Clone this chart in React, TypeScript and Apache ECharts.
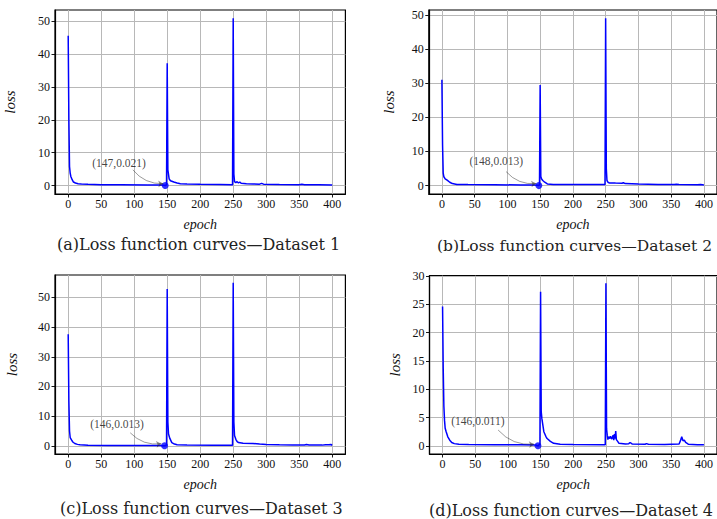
import React, { useEffect, useRef } from "react";
import * as echarts from "echarts";

// ---------- data ----------
const lossA: number[][] = [
  [0, 45.5], [1, 20], [2, 5.8], [3, 3.8], [4, 2.8], [6, 1.8], [8, 1.1], [11, 0.8], [15, 0.6], [20, 0.5],
  [30, 0.4], [50, 0.3], [80, 0.25], [120, 0.2], [140, 0.2], [145, 0.1], [147, 0.021], [149, 0.3],
  [150, 37.2], [151, 4.8], [153, 2], [155, 1.5], [160, 1.1], [165, 0.8], [170, 0.6], [180, 0.5],
  [200, 0.4], [230, 0.35], [249, 0.3], [250, 50.8], [251, 3.5], [252, 1.2], [254, 0.9], [256, 1.2],
  [258, 0.8], [260, 1.1], [262, 0.7], [270, 0.6], [280, 0.5], [290, 0.45], [293, 0.7], [296, 0.45],
  [320, 0.35], [350, 0.3], [354, 0.45], [358, 0.3], [380, 0.25], [400, 0.2],
];
const lossB: number[][] = [
  [0, 31], [1, 12], [2, 3.7], [3, 2.6], [5, 2], [8, 1.6], [12, 1], [16, 0.6], [23, 0.35], [40, 0.3],
  [80, 0.25], [120, 0.2], [140, 0.2], [146, 0.1], [148, 0.013], [149, 0.3], [150, 29.5], [151, 2.7],
  [152, 2], [154, 1.5], [157, 1], [161, 0.5], [170, 0.35], [200, 0.3], [249, 0.3], [250, 49],
  [251, 5], [252, 1.5], [254, 0.9], [256, 0.8], [265, 0.75], [275, 0.7], [277, 0.85], [280, 0.6],
  [300, 0.45], [330, 0.35], [355, 0.3], [358, 0.4], [362, 0.3], [390, 0.25], [395, 0.35], [400, 0.2],
];
const lossC: number[][] = [
  [0, 37.6], [1, 15], [2, 5], [3, 2.8], [5, 2.0], [7, 1.3], [10, 0.8], [14, 0.5], [18, 0.35], [30, 0.2],
  [60, 0.15], [100, 0.12], [140, 0.1], [144, 0.05], [146, 0.013], [149, 0.3], [150, 52.8], [151, 8],
  [152, 4], [154, 2.5], [157, 1.1], [161, 0.6], [165, 0.35], [180, 0.25], [220, 0.2], [249, 0.2],
  [250, 54.9], [251, 8], [252, 3.5], [254, 2.2], [256, 1.4], [258, 1.1], [265, 0.9], [280, 0.8],
  [290, 0.6], [300, 0.45], [320, 0.35], [340, 0.3], [358, 0.3], [361, 0.45], [365, 0.3], [385, 0.25],
  [390, 0.4], [395, 0.35], [398, 0.45], [400, 0.2],
];
const lossD: number[][] = [
  [0, 24.6], [1, 13.6], [2, 7], [3, 4.5], [4, 3.1], [5.5, 2.5], [8, 1.6], [11, 1.0], [14, 0.6], [18, 0.4],
  [25, 0.3], [40, 0.25], [80, 0.2], [120, 0.2], [140, 0.18], [144, 0.1], [146, 0.011], [149, 0.3],
  [150, 27.2], [151, 6], [152, 4.8], [155, 2.5], [158, 1.7], [160, 1.3], [165, 0.8], [170, 0.45],
  [180, 0.3], [200, 0.25], [249, 0.2], [250, 28.7], [251, 3], [252, 1.9], [253, 1.1], [254, 1.6],
  [256, 1.3], [257, 1.7], [259, 1.2], [261, 1.9], [262, 1.0], [263, 2.1], [264, 1.3], [265, 2.6],
  [266, 1.1], [268, 0.8], [270, 0.45], [280, 0.35], [285, 0.4], [287, 0.6], [290, 0.35], [310, 0.3],
  [312, 0.4], [315, 0.3], [340, 0.25], [350, 0.3], [362, 0.35], [365, 1.2], [366, 1.6], [368, 0.9],
  [370, 1.0], [372, 0.6], [376, 0.3], [390, 0.2], [400, 0.2],
];
const seriesData = [lossA, lossB, lossC, lossD];

// minimum points annotated in each panel
const minPoints: number[][] = [[147, 0.021], [148, 0.013], [146, 0.013], [146, 0.011]];
const minLabels = ["(147,0.021)", "(148,0.013)", "(146,0.013)", "(146,0.011)"];
// where the annotation text sits (data coords) and where its arrow starts / ends
const labelPos: number[][] = [[77, 7.0], [83, 7.1], [74, 7.3], [54, 4.4]];
const arrowStart: number[][] = [[98, 4.8], [98, 4.1], [94, 4.4], [85, 2.8]];
const arrowEnd: number[][] = [[144, 0.6], [144, 0.6], [141, 0.7], [140, 0.3]];

const xTicks = [0, 50, 100, 150, 200, 250, 300, 350, 400];
const yTicks50 = [0, 10, 20, 30, 40, 50];
const yTicks30 = [0, 5, 10, 15, 20, 25, 30];
const yTickSets = [yTicks50, yTicks50, yTicks50, yTicks30];
const yRanges: number[][] = [[-2.54, 53.34], [-2.45, 51.45], [-2.74, 57.54], [-1.43, 30.03]];
const xRange = [-20, 420];

const captions = [
  "(a)Loss function curves—Dataset 1",
  "(b)Loss function curves—Dataset 2",
  "(c)Loss function curves—Dataset 3",
  "(d)Loss function curves—Dataset 4",
];

// ---------- layout ----------
const grids = [
  { left: 55, top: 10, width: 290.4, height: 184 },
  { left: 428.8, top: 10, width: 289.3, height: 184 },
  { left: 55, top: 275, width: 290.4, height: 179 },
  { left: 429.5, top: 275.7, width: 289, height: 178.3 },
];
const yNameGaps = [38, 32, 36, 27];
const captionPos = [[57, 246], [437, 248], [60, 510], [429, 512]];
const captionSizes = [16, 15.5, 16, 16];

const FONT = "Liberation Serif";
const CAPFONT = "DejaVu Serif";

export default function App() {
  const ref = useRef<HTMLDivElement>(null);
  useEffect(() => {
    if (!ref.current) return;
    const chart = echarts.init(ref.current, null, { renderer: "svg" });

    const xAxis = grids.map((_, i) => ({
      type: "value",
      gridIndex: i,
      min: xRange[0],
      max: xRange[1],
      name: "epoch",
      nameLocation: "middle",
      nameGap: 23,
      nameTextStyle: { fontFamily: FONT, fontStyle: "italic", fontSize: 14, color: "#111" },
      axisLine: { show: true, onZero: false, lineStyle: { color: "#000", width: 1.2 } },
      axisTick: { show: true, inside: false, length: 3.5, customValues: xTicks, lineStyle: { color: "#000", width: 0.9 } },
      axisLabel: { show: true, customValues: xTicks, margin: 4, fontFamily: FONT, fontSize: 12, color: "#111" },
      splitLine: { show: true, lineStyle: { color: "#b8b8b8", width: 1 } },
    }));
    const yAxis = grids.map((_, i) => ({
      type: "value",
      gridIndex: i,
      min: yRanges[i][0],
      max: yRanges[i][1],
      name: "loss",
      nameLocation: "middle",
      nameGap: yNameGaps[i],
      nameTextStyle: { fontFamily: FONT, fontStyle: "italic", fontSize: 15, color: "#111" },
      axisLine: { show: true, onZero: false, lineStyle: { color: "#000", width: 1.2 } },
      axisTick: { show: true, inside: false, length: 3.5, customValues: yTickSets[i], lineStyle: { color: "#000", width: 0.9 } },
      axisLabel: { show: true, customValues: yTickSets[i], margin: 5, fontFamily: FONT, fontSize: 12, color: "#111" },
      splitLine: { show: true, lineStyle: { color: "#b8b8b8", width: 1 } },
    }));

    const series: any[] = [];
    seriesData.forEach((d, i) => {
      series.push({
        type: "line",
        xAxisIndex: i,
        yAxisIndex: i,
        data: d,
        showSymbol: false,
        symbol: "none",
        lineStyle: { color: "#0000ff", width: 1.5 },
        z: 3,
      });
      series.push({
        type: "scatter",
        xAxisIndex: i,
        yAxisIndex: i,
        data: [minPoints[i]],
        symbol: "circle",
        symbolSize: 7,
        itemStyle: { color: "#0000ff" },
        z: 4,
      });
      series.push({
        type: "scatter",
        xAxisIndex: i,
        yAxisIndex: i,
        data: [labelPos[i]],
        symbol: "circle",
        symbolSize: 1,
        itemStyle: { color: "rgba(0,0,0,0)" },
        label: {
          show: true,
          position: "inside",
          formatter: () => minLabels[i],
          fontFamily: FONT,
          fontSize: 11.5,
          color: "#111",
        },
        z: 5,
      });
      series.push({
        type: "lines",
        coordinateSystem: "cartesian2d",
        xAxisIndex: i,
        yAxisIndex: i,
        data: [{ coords: [arrowStart[i], arrowEnd[i]] }],
        symbol: ["none", "arrow"],
        symbolSize: 5,
        lineStyle: { color: "#222", width: 0.9, curveness: -0.25 },
        z: 5,
      });
    });

    chart.setOption({
      animation: false,
      backgroundColor: "#fff",
      grid: grids.map((g) => ({ ...g, show: true, borderColor: "#000", borderWidth: 1.2, backgroundColor: "transparent" })),
      xAxis,
      yAxis,
      series,
      graphic: captions.map((c, i) => ({
        type: "text",
        left: captionPos[i][0],
        top: captionPos[i][1] - 10,
        style: { text: c, fontFamily: CAPFONT, fontSize: captionSizes[i], fill: "#222" },
      })),
    });
    return () => chart.dispose();
  }, []);
  return (
    <div
      ref={ref}
      style={{ position: "absolute", left: 0, top: 0, width: 717, height: 519, background: "#fff" }}
    />
  );
}
